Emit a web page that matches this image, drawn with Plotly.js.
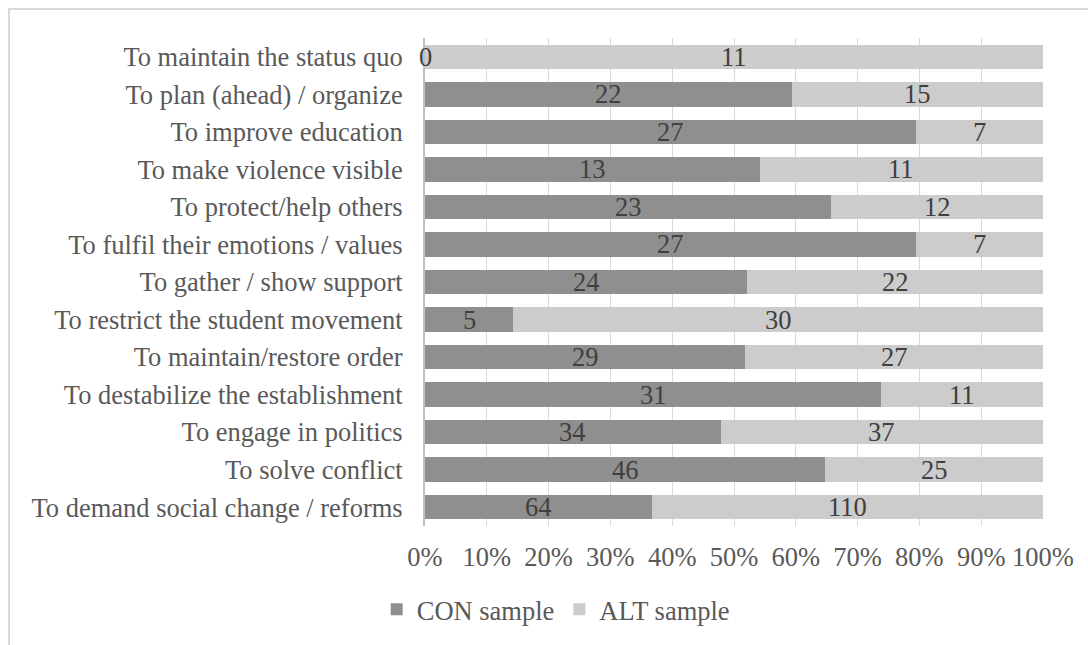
<!DOCTYPE html>
<html>
<head>
<meta charset="utf-8">
<script src="https://cdn.plot.ly/plotly-3.0.1.min.js"></script>
<style>
  html, body { margin: 0; padding: 0; background: #ffffff; overflow: hidden; }
  #frame { position: absolute; left: 8px; top: 8px; width: 1200px; height: 1000px; border: 2px solid #d9d9d9; box-sizing: border-box; }
  #chart { position: absolute; left: 0; top: 0; width: 1088px; height: 645px; }
</style>
</head>
<body>
<div id="frame"></div>
<div id="chart"></div>
<script>
const categories = [
  "To maintain the status quo",
  "To plan (ahead) / organize",
  "To improve education",
  "To make violence visible",
  "To protect/help others",
  "To fulfil their emotions / values",
  "To gather / show support",
  "To restrict the student movement",
  "To maintain/restore order",
  "To destabilize the establishment",
  "To engage in politics",
  "To solve conflict",
  "To demand social change / reforms"
];
const conValues = [0, 22, 27, 13, 23, 27, 24, 5, 29, 31, 34, 46, 64];
const altValues = [11, 15, 7, 11, 12, 7, 22, 30, 27, 11, 37, 25, 110];
const seriesNames = ["CON sample", "ALT sample"];
const tickVals = [0, 10, 20, 30, 40, 50, 60, 70, 80, 90, 100];
const tickLabels = ["0%", "10%", "20%", "30%", "40%", "50%", "60%", "70%", "80%", "90%", "100%"];

const FONT = 'Liberation Serif';
const FS = 26.5;
const conColor = '#8f8f8f';
const altColor = '#cccccc';

const traces = [
  { type: 'bar', orientation: 'h', name: seriesNames[0], y: categories, x: conValues,
    marker: { color: conColor }, hoverinfo: 'none' },
  { type: 'bar', orientation: 'h', name: seriesNames[1], y: categories, x: altValues,
    marker: { color: altColor }, hoverinfo: 'none' }
];

// data labels centred in each segment (percent scale)
const annotations = [];
categories.forEach((c, i) => {
  const tot = conValues[i] + altValues[i];
  const pc = conValues[i] / tot * 100;
  const pa = altValues[i] / tot * 100;
  annotations.push({ x: pc / 2, y: c, xref: 'x', yref: 'y', text: String(conValues[i]),
    showarrow: false, font: { family: FONT, size: FS, color: '#404040' } });
  annotations.push({ x: pc + pa / 2, y: c, xref: 'x', yref: 'y', text: String(altValues[i]),
    showarrow: false, font: { family: FONT, size: FS, color: '#404040' } });
});

const layout = {
  width: 1088, height: 645,
  margin: { l: 425, r: 45, t: 38, b: 116, pad: 0 },
  paper_bgcolor: 'rgba(0,0,0,0)',
  plot_bgcolor: 'rgba(0,0,0,0)',
  barmode: 'stack',
  barnorm: 'percent',
  bargap: 0.35,
  font: { family: FONT, size: FS, color: '#595959' },
  showlegend: true,
  legend: {
    orientation: 'h', x: 0.2115, xanchor: 'center', y: -0.171, yanchor: 'middle',
    font: { family: FONT, size: FS, color: '#595959' }, traceorder: 'normal',
    itemclick: false, itemdoubleclick: false
  },
  xaxis: {
    range: [0, 100], tickmode: 'array', tickvals: tickVals, ticktext: tickLabels,
    showgrid: true, gridcolor: '#d9d9d9', gridwidth: 1,
    zeroline: false, showline: false, ticks: '',
    tickfont: { family: FONT, size: FS, color: '#595959' },
    ticklabelstandoff: 12, fixedrange: true
  },
  yaxis: {
    type: 'category', autorange: 'reversed',
    showgrid: false, zeroline: false, ticks: '',
    showline: true, linecolor: '#bfbfbf', linewidth: 2,
    tickfont: { family: FONT, size: FS, color: '#595959' },
    ticklabelstandoff: 15, fixedrange: true
  },
  annotations: annotations
};

Plotly.newPlot('chart', traces, layout, { displayModeBar: false, staticPlot: true });
</script>
</body>
</html>
